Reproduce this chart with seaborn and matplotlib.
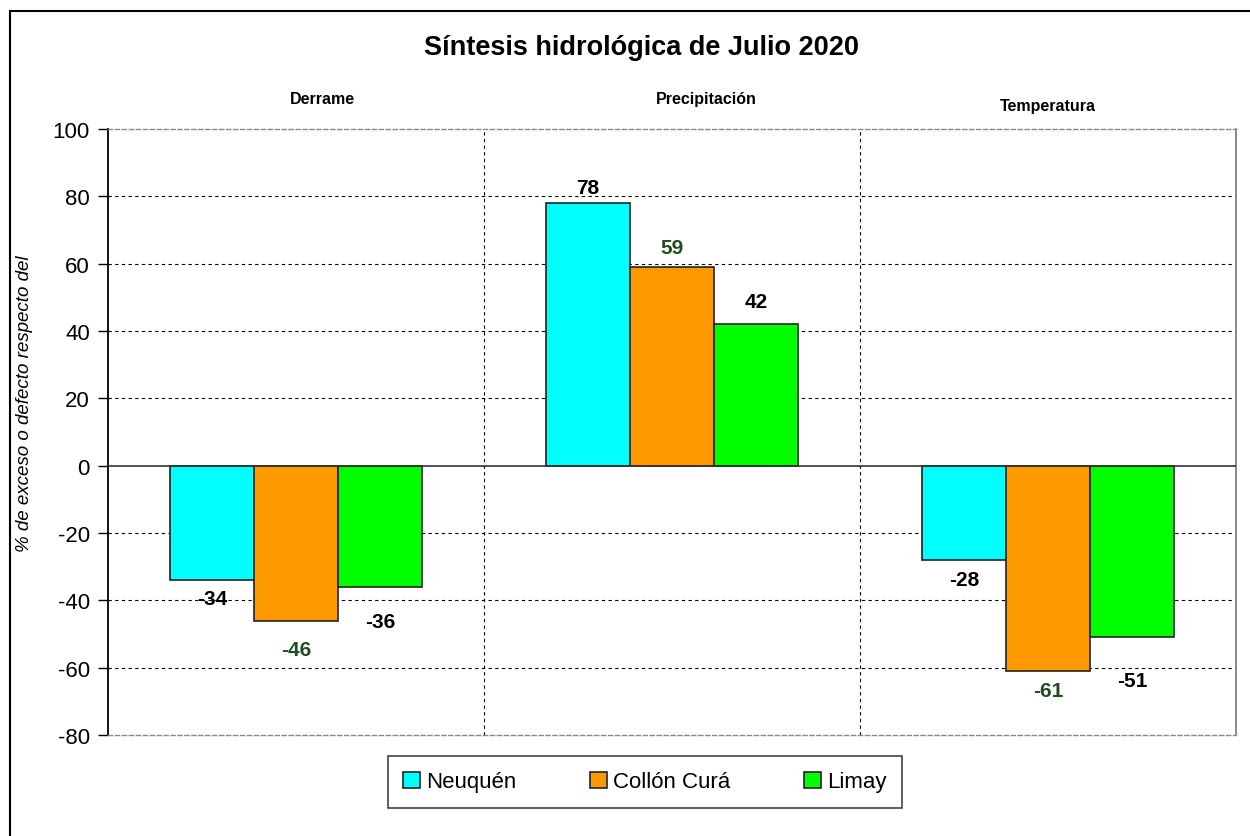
import numpy as np
import pandas as pd
import seaborn as sns
import matplotlib.pyplot as plt
from matplotlib.patches import Rectangle

# data
categorias = ["Derrame", "Precipitación", "Temperatura"]
series = ["Neuquén", "Collón Curá", "Limay"]
neuquen = [-34, 78, -28]
collon_cura = [-46, 59, -61]
limay = [-36, 42, -51]
y_ticks = [-80, -60, -40, -20, 0, 20, 40, 60, 80, 100]

colores = ["#00FFFF", "#FF9900", "#00FF00"]
color_etiqueta = ["black", "#1E4D1E", "black"]
# label offsets (points) as placed in the original
pad_etiqueta = [[6.5, 4.3, 7.2], [13.7, 7.2, 7.2], [18, 9.4, 24.5]]

df = pd.DataFrame({
    "categoria": categorias * 3,
    "serie": np.repeat(series, 3),
    "valor": neuquen + collon_cura + limay,
})

sns.set_style("white")
plt.rcParams["font.family"] = ["Liberation Sans", "DejaVu Sans"]
plt.rcParams["axes.unicode_minus"] = False
plt.rcParams["text.color"] = "black"
plt.rcParams["ytick.color"] = "black"
plt.rcParams["ytick.labelcolor"] = "black"

fig = plt.figure(figsize=(12.5, 8.37), dpi=100)
ax = fig.add_axes([108 / 1250, 1 - 736 / 837, 1128 / 1250, 606 / 837])

sns.barplot(
    data=df, x="categoria", y="valor", hue="serie",
    order=categorias, hue_order=series, palette=colores,
    edgecolor="#222222", linewidth=1.2, width=0.67, saturation=1,
    ax=ax, legend=True,
)

for cont, col, pads in zip(ax.containers, color_etiqueta, pad_etiqueta):
    for bar, pad in zip(cont.patches, pads):
        v = bar.get_height()
        xc = bar.get_x() + bar.get_width() / 2
        ax.annotate(f"{v:.0f}", (xc, v), xytext=(0, pad if v > 0 else -pad),
                    textcoords="offset points", ha="center",
                    va="bottom" if v > 0 else "top", color=col,
                    fontsize=15, fontweight="bold")

ax.set_ylim(-80, 100)
ax.set_xlim(-0.5, 2.5)
ax.set_yticks(y_ticks)
ax.tick_params(axis="y", labelsize=16, direction="out", length=7,
               width=1, color="black", left=True, pad=6)
ax.set_xticks([])
ax.set_xlabel("")
ax.set_ylabel("")

for yv in y_ticks[1:-1]:
    if yv != 0:
        ax.axhline(yv, color="black", lw=0.8, ls=(0, (3, 3)), zorder=0)
ax.axhline(0, color="#333333", lw=1.2, zorder=3)
for xv in [0.5, 1.5]:
    ax.axvline(xv, color="black", lw=0.8, ls=(0, (3, 3)), zorder=0)

ax.spines["left"].set_color("black")
ax.spines["left"].set_linewidth(1.3)
ax.spines["right"].set_color("#777777")
ax.spines["right"].set_linewidth(1.2)
for s in ["top", "bottom"]:
    ax.spines[s].set_color("#888888")
    ax.spines[s].set_linestyle((0, (3, 2)))
    ax.spines[s].set_linewidth(1.0)

# category headers above the plot
for x, y, txt in [(0.07, 1.05, "Derrame"), (1.09, 1.05, "Precipitación"),
                  (2.0, 1.038, "Temperatura")]:
    ax.text(x, y, txt, transform=ax.get_xaxis_transform(), ha="center",
            va="center", fontsize=11.5, fontweight="bold")

fig.text(641 / 1250, 1 - 48 / 837, "Síntesis hidrológica de Julio 2020",
         ha="center", va="center", fontsize=19.5, fontweight="bold")

fig.text(25 / 1250, 1 - 404 / 837, "% de exceso o defecto respecto del",
         rotation=90, ha="center", va="center", fontsize=13.5, style="italic")

handles, labels = ax.get_legend_handles_labels()
for h in handles:
    h.set_edgecolor("#222222")
    h.set_linewidth(1.2)
ax.legend(handles, labels, ncol=3, loc="center",
          bbox_to_anchor=(645 / 1250, 1 - 783 / 837),
          bbox_transform=fig.transFigure, fontsize=16, frameon=True,
          fancybox=False, edgecolor="#444444", framealpha=1,
          handlelength=0.75, handleheight=0.75, handletextpad=0.3,
          columnspacing=3.3, borderpad=0.7)
ax.get_legend().get_frame().set_linewidth(1.2)

fig.patches.append(Rectangle((10 / 1250, -0.05), 1.1, 1 - 12 / 837 + 0.05,
                             transform=fig.transFigure, fill=False,
                             edgecolor="black", lw=1.5, clip_on=False))

fig.savefig("out.png", dpi=100)
